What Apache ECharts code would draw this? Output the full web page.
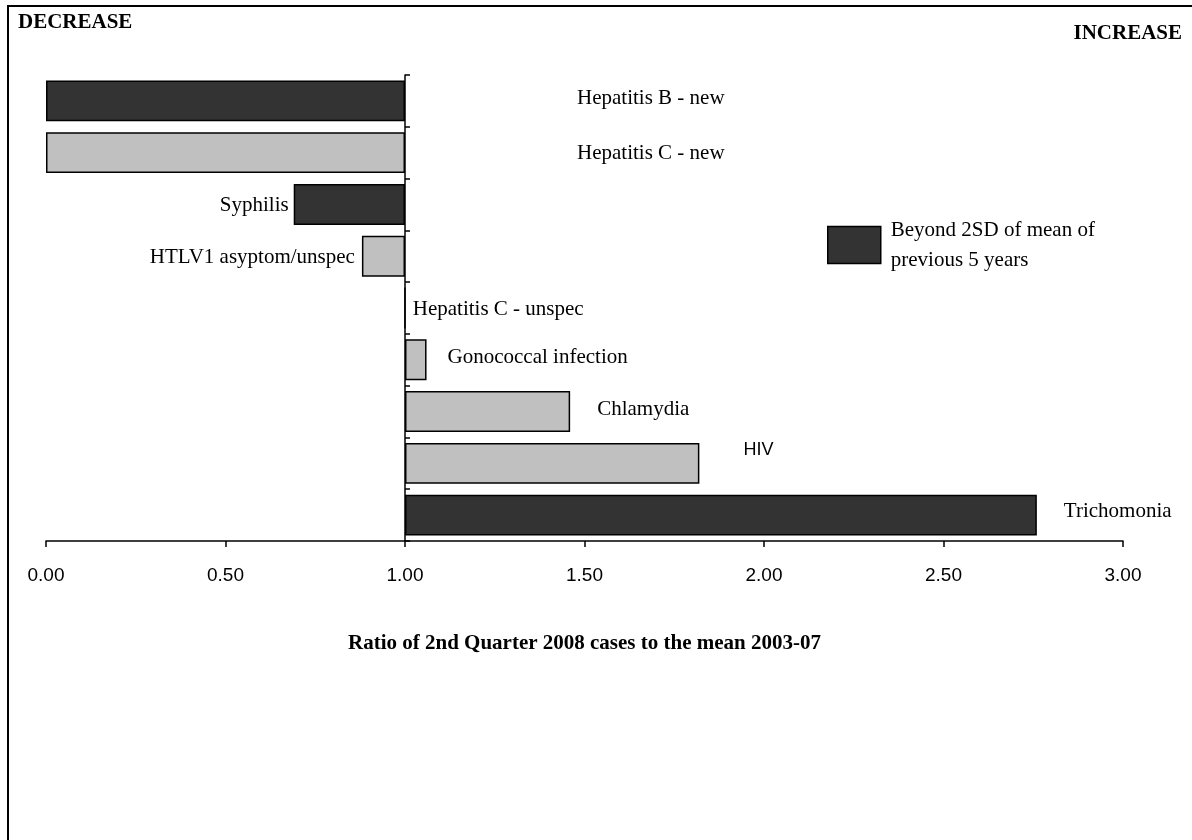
<!DOCTYPE html>
<html>
<head>
<meta charset="utf-8">
<script src="https://cdn.jsdelivr.net/npm/echarts@6/dist/echarts.min.js"></script>
<style>
html,body{margin:0;padding:0;background:#fff;}
#frame{position:absolute;left:7px;top:5px;width:1185px;height:835px;border-left:2px solid #000;border-top:2px solid #000;box-sizing:border-box;}
#chart{position:absolute;left:0;top:0;width:1192px;height:840px;}
</style>
</head>
<body>
<div id="frame"></div>
<div id="chart"></div>
<script>
// Data
const categories = ['Hepatitis B - new','Hepatitis C - new','Syphilis','HTLV1 asyptom/unspec','Hepatitis C - unspec','Gonococcal infection','Chlamydia','HIV','Trichomonia'];
const ratios = [0.00, 0.00, 0.69, 0.88, 1.00, 1.06, 1.46, 1.82, 2.76];
const beyond2SD = [true, false, true, false, false, false, false, false, true];
const tickLabels = ['0.00','0.50','1.00','1.50','2.00','2.50','3.00'];
const legendName = 'Beyond 2SD of mean of\nprevious 5 years';

const BASE = 1; // bars drawn relative to ratio 1.00
const serif = '"Liberation Serif", "Times New Roman", serif';
const sans = '"Liberation Sans", Arial, sans-serif';

// per-category label placement (styling, not data)
const labelCfg = [
  {position:'insideLeft', offset:[526,-2]},
  {position:'insideLeft', offset:[526,1]},
  {position:'left', distance:5, offset:[0,1]},
  {position:'left', distance:7, offset:[0,1]},
  {position:'right', distance:7, offset:[0,1]},
  {position:'right', distance:21, offset:[0,-2]},
  {position:'right', distance:27, offset:[0,-2]},
  {position:'right', distance:44, offset:[0,-13], fontFamily:sans, fontSize:18},
  {position:'right', distance:27, offset:[0,-4]}
];

function item(i){
  const cfg = Object.assign({show:true, formatter: categories[i], color:'#000', fontFamily:serif, fontSize:21}, labelCfg[i]);
  return {value: +(ratios[i]-BASE).toFixed(4), label: cfg};
}
const darkData = ratios.map((v,i)=> beyond2SD[i] ? item(i) : '-');
const lightData = ratios.map((v,i)=> beyond2SD[i] ? '-' : item(i));

const chart = echarts.init(document.getElementById('chart'), null, {renderer:'canvas'});
chart.setOption({
  animation:false,
  backgroundColor:'transparent',
  grid:{left:46, right:69, top:75, bottom:299, containLabel:false},
  title:[
    {text:'DECREASE', left:13, top:7, textStyle:{fontFamily:serif, fontWeight:'bold', fontSize:21, color:'#000'}},
    {text:'INCREASE', right:5, top:18, textStyle:{fontFamily:serif, fontWeight:'bold', fontSize:21, color:'#000'}}
  ],
  legend:{
    data:[legendName], left:827, top:213, padding:0, itemWidth:53, itemHeight:37, itemGap:0,
    icon:'rect',
    textStyle:{fontFamily:serif, fontSize:21, color:'#000', lineHeight:30, padding:[4,0,0,5]},
    itemStyle:{borderColor:'#000', borderWidth:1.5}
  },
  xAxis:{
    type:'value', min:-1, max:2, interval:0.5,
    name:'Ratio of 2nd Quarter 2008 cases to the mean 2003-07',
    nameLocation:'middle', nameGap:92,
    nameTextStyle:{fontFamily:serif, fontWeight:'bold', fontSize:21, color:'#000'},
    axisLine:{show:true, onZero:false, lineStyle:{color:'#000', width:1.5}},
    axisTick:{show:true, length:6, lineStyle:{color:'#000', width:1.5}},
    axisLabel:{fontFamily:sans, fontSize:19, color:'#000', margin:25,
      formatter:(v)=> tickLabels[Math.round((v+BASE)/0.5)]},
    splitLine:{show:false}
  },
  yAxis:{
    type:'category', data:categories, inverse:true,
    axisLine:{show:true, onZero:true, lineStyle:{color:'#000', width:1.5}},
    axisTick:{show:true, inside:true, length:5, lineStyle:{color:'#000', width:1.5}},
    axisLabel:{show:false},
    splitLine:{show:false}
  },
  series:[
    {name:legendName, type:'bar', data:darkData, barCategoryGap:'21%', barGap:'-100%',
      itemStyle:{color:'#333333', borderColor:'#000', borderWidth:1.5}},
    {name:'Within 2SD', type:'bar', data:lightData, barCategoryGap:'21%', barGap:'-100%',
      itemStyle:{color:'#c0c0c0', borderColor:'#000', borderWidth:1.5}}
  ]
});
</script>
</body>
</html>
